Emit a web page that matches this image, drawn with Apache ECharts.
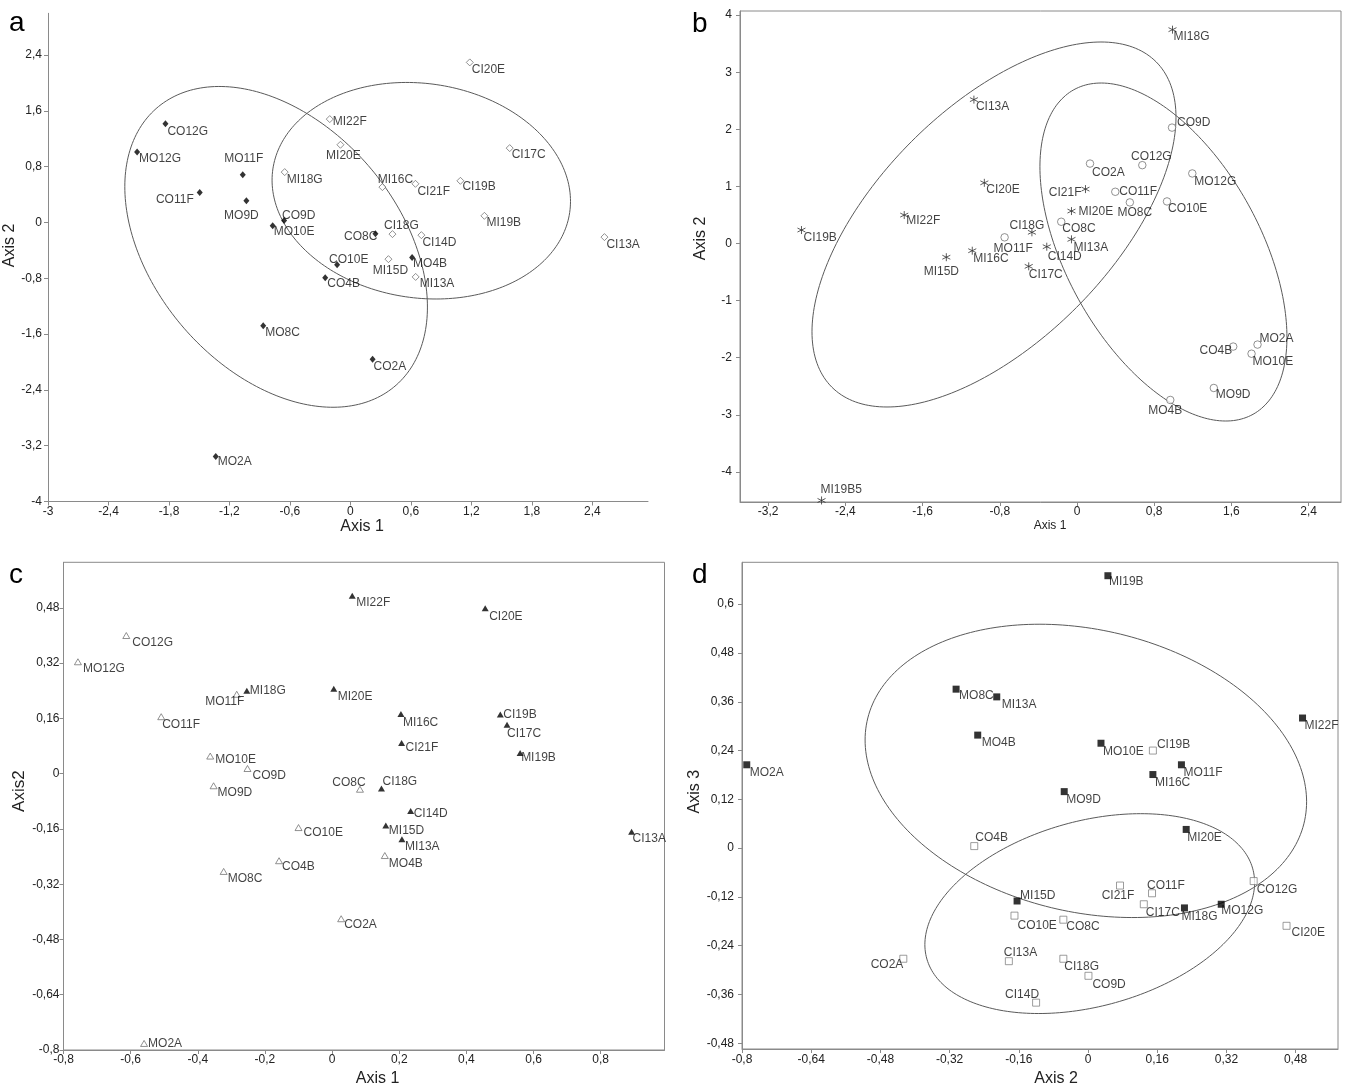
<!DOCTYPE html>
<html><head><meta charset="utf-8">
<script src="https://cdn.jsdelivr.net/npm/echarts@6/dist/echarts.min.js"></script>
<style>html,body{margin:0;padding:0;background:#fff}#c{width:1345px;height:1088px}</style>
</head><body><div id="c"></div>
<script>
// ===== Panel a : Axis 1 vs Axis 2 (diamonds) =====
const aFilledNames = ['CO12G','MO12G','MO11F','CO11F','MO9D','CO9D','MO10E','CO8C','CO10E','CO4B','MO4B','MO8C','CO2A','MO2A'];
const aFilledX = [-1.835,-2.116,-1.068,-1.495,-1.032,-0.658,-0.771,0.248,-0.132,-0.25,0.612,-0.865,0.22,-1.336];
const aFilledY = [1.416,1.010,0.684,0.430,0.311,0.029,-0.047,-0.162,-0.607,-0.79,-0.502,-1.48,-1.96,-3.355];
const aOpenNames = ['CI20E','MI22F','MI20E','CI17C','MI18G','MI16C','CI21F','CI19B','MI19B','CI13A','CI18G','CI14D','MI15D','MI13A'];
const aOpenX = [1.184,-0.205,-0.099,1.580,-0.652,0.317,0.645,1.091,1.329,2.520,0.417,0.704,0.377,0.647];
const aOpenY = [2.296,1.483,1.115,1.067,0.723,0.508,0.555,0.598,0.096,-0.209,-0.166,-0.181,-0.525,-0.78];
// ellipses: [centre x, centre y, var x, var y, cov xy]
const aEllipses = [[-0.737,-0.349,2.253,5.289,-1.295],[0.703,0.456,2.191,2.410,-0.225]];
const aXTicks = [-3,-2.4,-1.8,-1.2,-0.6,0,0.6,1.2,1.8,2.4];
const aYTicks = [-4,-3.2,-2.4,-1.6,-0.8,0,0.8,1.6,2.4];

// ===== Panel b : Axis 1 vs Axis 2 (asterisks / circles) =====
const bStarNames = ['MI18G','CI13A','CI20E','MI22F','CI19B','MI15D','MI16C','CI21F','MI20E','CI18G','CI14D','MI13A','CI17C','MI19B5'];
const bStarX = [0.99,-1.068,-0.96,-1.79,-2.855,-1.354,-1.085,0.088,-0.057,-0.467,-0.313,-0.057,-0.50,-2.647];
const bStarY = [3.745,2.52,1.063,0.498,0.236,-0.24,-0.126,0.953,0.568,0.196,-0.056,0.073,-0.40,-4.50];
const bCircNames = ['CO9D','CO2A','CO12G','MO12G','CO11F','CO10E','MO8C','CO8C','MO11F','CO4B','MO2A','MO10E','MO9D','MO4B'];
const bCircX = [0.985,0.135,0.677,1.195,0.397,0.933,0.548,-0.163,-0.75,1.619,1.871,1.809,1.418,0.967];
const bCircY = [2.03,1.40,1.372,1.227,0.906,0.737,0.72,0.381,0.108,-1.805,-1.77,-1.93,-2.53,-2.74];
const bEllipses = [[-0.860,0.333,3.557,10.215,3.544],[0.896,-0.149,1.638,8.76,-1.911]];
const bXTicks = [-3.2,-2.4,-1.6,-0.8,0,0.8,1.6,2.4];
const bYTicks = [-4,-3,-2,-1,0,1,2,3,4];

// ===== Panel c : Axis 1 vs Axis2 (triangles) =====
const cFilledNames = ['MI18G','MI20E','MI22F','CI20E','MI16C','CI19B','CI17C','CI21F','MI19B','CI18G','CI14D','MI15D','CI13A','MI13A'];
const cFilledX = [-0.254,0.005,0.060,0.456,0.205,0.501,0.521,0.207,0.560,0.147,0.234,0.16,0.892,0.208];
const cFilledY = [0.240,0.246,0.515,0.479,0.173,0.171,0.142,0.089,0.060,-0.043,-0.108,-0.15,-0.168,-0.19];
const cOpenNames = ['CO12G','MO12G','MO11F','CO11F','MO10E','CO9D','MO9D','CO8C','CO10E','MO4B','CO4B','MO8C','CO2A','MO2A'];
const cOpenX = [-0.613,-0.757,-0.284,-0.509,-0.363,-0.252,-0.353,0.083,-0.10,0.157,-0.158,-0.323,0.027,-0.56];
const cOpenY = [0.400,0.324,0.230,0.165,0.051,0.015,-0.035,-0.045,-0.156,-0.237,-0.252,-0.283,-0.42,-0.781];
const cXTicks = [-0.8,-0.6,-0.4,-0.2,0,0.2,0.4,0.6,0.8];
const cYTicks = [-0.8,-0.64,-0.48,-0.32,-0.16,0,0.16,0.32,0.48];

// ===== Panel d : Axis 2 vs Axis 3 (squares) =====
const dFilledNames = ['MI19B','MO8C','MI13A','MO4B','MO2A','MI22F','MO10E','MO11F','MI16C','MO9D','MI20E','MI15D','MI18G','MO12G'];
const dFilledX = [0.046,-0.305,-0.211,-0.255,-0.789,0.496,0.030,0.216,0.150,-0.055,0.227,-0.164,0.223,0.308];
const dFilledY = [0.670,0.391,0.372,0.278,0.205,0.320,0.258,0.205,0.181,0.139,0.046,-0.130,-0.147,-0.138];
const dOpenNames = ['CI19B','CO4B','CO12G','CI21F','CO11F','CI17C','CO10E','CO8C','CI20E','CO2A','CI13A','CI18G','CO9D','CI14D'];
const dOpenX = [0.150,-0.263,0.383,0.074,0.148,0.129,-0.170,-0.057,0.459,-0.427,-0.183,-0.057,0.001,-0.120];
const dOpenY = [0.240,0.005,-0.081,-0.092,-0.111,-0.138,-0.166,-0.176,-0.191,-0.272,-0.278,-0.272,-0.314,-0.380];
const dEllipses = [[-0.005,0.190,0.2605,0.1301,-0.03875],[0.004,-0.161,0.1453,0.0604,0.02907]];
const dXTicks = [-0.8,-0.64,-0.48,-0.32,-0.16,0,0.16,0.32,0.48];
const dYTicks = [-0.48,-0.36,-0.24,-0.12,0,0.12,0.24,0.36,0.48,0.6];

// ===== label placement (style): [dx, dy, align] from marker centre =====
const labA = {CO12G:[2,8,'left'],MO12G:[2,7,'left'],MO11F:[1,-16,'center'],CO11F:[-6,7,'right'],MO9D:[-5,15,'center'],CO9D:[-2,-5,'left'],MO10E:[1,6,'left'],MI18G:[2,8,'left'],MI22F:[3,3,'left'],MI20E:[3,11,'center'],CI20E:[2,7,'left'],CI17C:[2,7,'left'],MI16C:[13,-7,'center'],CI21F:[2,8,'left'],CI19B:[2,6,'left'],MI19B:[2,7,'left'],CI13A:[2,8,'left'],CI18G:[9,-8,'center'],CO8C:[2,3,'right'],CI14D:[1,8,'left'],CO10E:[-8,-5,'left'],MI15D:[2,12,'center'],MO4B:[1,6,'left'],MI13A:[4,7,'left'],CO4B:[2,6,'left'],MO8C:[2,7,'left'],CO2A:[1,7,'left'],MO2A:[2,5,'left']};
const labB = {CI13A:[2,7,'left'],CI20E:[2,7,'left'],MI22F:[2,6,'left'],CI19B:[2,8,'left'],MI15D:[-5,14,'center'],MI16C:[1,8,'left'],MO11F:[-11,11,'left'],MI18G:[1,7,'left'],CO9D:[5,-5,'left'],CO2A:[2,9,'left'],CO12G:[9,-8,'center'],MO12G:[2,8,'left'],CI21F:[-4,4,'right'],CO11F:[4,0,'left'],CO10E:[1,7,'left'],MI20E:[7,1,'left'],MO8C:[5,10,'center'],CI18G:[-5,-7,'center'],CO8C:[1,7,'left'],MI13A:[2,8,'left'],CI14D:[1,10,'left'],CI17C:[0,8,'left'],CO4B:[-1,4,'right'],MO2A:[2,-6,'left'],MO10E:[1,8,'left'],MO9D:[2,7,'left'],MO4B:[-5,11,'center'],MI19B5:[-1,-11,'left']};
const labC = {CO12G:[6,7,'left'],MO12G:[5,7,'left'],MO11F:[-12,7,'center'],MI18G:[3,0,'left'],CO11F:[1,8,'left'],MO10E:[5,4,'left'],CO9D:[5,7,'left'],MO9D:[4,7,'left'],MI20E:[4,8,'left'],MI22F:[4,7,'left'],CI20E:[4,8,'left'],MI16C:[2,9,'left'],CI19B:[3,0,'left'],CI17C:[0,9,'left'],CI21F:[4,5,'left'],MI19B:[1,5,'left'],CO8C:[-11,-7,'center'],CI18G:[1,-7,'left'],CI14D:[3,3,'left'],CO10E:[5,5,'left'],MI15D:[3,5,'left'],CI13A:[1,7,'left'],MI13A:[3,7,'left'],MO4B:[4,8,'left'],CO4B:[3,6,'left'],MO8C:[4,7,'left'],CO2A:[3,6,'left'],MO2A:[4,0,'left']};
const labD = {MO8C:[3,7,'left'],MI13A:[5,8,'left'],MO4B:[4,8,'left'],MO2A:[3,8,'left'],MI19B:[1,6,'left'],MI22F:[2,8,'left'],MO10E:[2,8,'left'],CI19B:[4,-6,'left'],MO11F:[2,8,'left'],MI16C:[2,8,'left'],MO9D:[2,8,'left'],CO4B:[1,-8,'left'],MI20E:[1,8,'left'],CO12G:[3,9,'left'],CI21F:[-2,10,'center'],CO11F:[-5,-8,'left'],MI15D:[3,-5,'left'],CI17C:[2,8,'left'],MI18G:[-3,9,'left'],MO12G:[0,6,'left'],CO10E:[3,10,'left'],CO8C:[3,7,'left'],CI20E:[5,7,'left'],CO2A:[0,6,'right'],CI13A:[-5,-8,'left'],CI18G:[1,8,'left'],CO9D:[4,9,'left'],CI14D:[3,-8,'right']};

const FONT = 'Arial, "Liberation Sans", Helvetica, sans-serif';
const AXC = '#8a8a8a';
const fmt = v => String(v).replace('.', ',');

function ellipsePts(e) {
  const [cx, cy, sxx, syy, sxy] = e;
  const a = Math.sqrt(sxx), b = sxy / a, c = Math.sqrt(syy - b * b);
  const pts = [];
  for (let i = 0; i <= 240; i++) {
    const t = 2 * Math.PI * i / 240;
    pts.push([cx + a * Math.cos(t), cy + b * Math.cos(t) + c * Math.sin(t)]);
  }
  return pts;
}

function pointSeries(gi, names, xs, ys, labMap, symbol, size, itemStyle) {
  return {
    type: 'scatter', xAxisIndex: gi, yAxisIndex: gi, symbol: symbol, symbolSize: size,
    itemStyle: itemStyle, z: 3,
    label: { show: true, position: 'inside', formatter: '{b}', fontSize: 12, fontFamily: FONT,
             color: '#111', verticalAlign: 'middle' },
    emphasis: { disabled: true },
    data: names.map((n, i) => {
      const p = labMap[n] || [2, 8, 'left'];
      return { name: n, value: [xs[i], ys[i]], label: { offset: [p[0], p[1]], align: p[2] } };
    })
  };
}

function ellipseSeries(gi, ell) {
  return {
    type: 'line', xAxisIndex: gi, yAxisIndex: gi, data: ellipsePts(ell), showSymbol: false,
    symbol: 'none', smooth: false, silent: true, z: 2,
    lineStyle: { color: '#5a5a5a', width: 1 }
  };
}

function mkX(gi, min, max, ticks, name, gap, fs, pad, margin) {
  return {
    type: 'value', gridIndex: gi, min: min, max: max, name: name, nameLocation: 'middle', nameGap: gap,
    nameTextStyle: { fontSize: fs, fontFamily: FONT, color: '#222', padding: pad },
    axisLine: { show: true, onZero: false, lineStyle: { color: AXC, width: 1 } },
    axisTick: { show: true, length: 4, inside: false, lineStyle: { color: AXC }, customValues: ticks },
    axisLabel: { customValues: ticks, formatter: fmt, fontSize: 12, fontFamily: FONT, color: '#222', margin: margin },
    splitLine: { show: false }
  };
}
function mkY(gi, min, max, ticks, name, gap, fs, pad, margin) {
  const o = mkX(gi, min, max, ticks, name, gap, fs, pad, margin);
  o.nameRotate = 90;
  return o;
}

const grids = [
  { left: 48, top: 13.3, width: 600, height: 488.2, show: false },
  { left: 740, top: 11, width: 601, height: 491, show: true, borderColor: AXC, borderWidth: 1 },
  { left: 63.5, top: 562.3, width: 601, height: 490.7, show: true, borderColor: AXC, borderWidth: 1 },
  { left: 742, top: 562.3, width: 596, height: 489.4, show: true, borderColor: AXC, borderWidth: 1 }
];

const xAxes = [
  mkX(0, -3, 2.952, aXTicks, 'Axis 1', 16.5, 16, [0, 0, 0, 28], 4),
  mkX(1, -3.492, 2.736, bXTicks, 'Axis 1', 18, 12, [0, 0, 0, 19], 4),
  mkX(2, -0.8, 0.99, cXTicks, 'Axis 1', 21, 16, [0, 0, 0, 27], 4),
  mkX(3, -0.8, 0.578, dXTicks, 'Axis 2', 22, 16, [0, 0, 0, 32], 5)
];
const yAxes = [
  mkY(0, -4, 3.0, aYTicks, 'Axis 2', 22, 16, [0, 0, 0, 24], 6),
  mkY(1, -4.527, 4.072, bYTicks, 'Axis 2', 31, 16, [0, 0, 0, 36], 8),
  mkY(2, -0.8, 0.612, cYTicks, 'Axis2', 26, 17, [0, 0, 0, 30], 4),
  mkY(3, -0.494, 0.703, dYTicks, 'Axis 3', 29, 16, [0, 0, 0, 28], 8)
];

const openStyle = c => ({ color: '#fff', borderColor: c, borderWidth: 0.9 });
const blackStyle = { color: '#000' };
const STAR = 'path://M5,0L5,10M0.7,2.5L9.3,7.5M0.7,7.5L9.3,2.5';

const series = [
  ellipseSeries(0, aEllipses[0]), ellipseSeries(0, aEllipses[1]),
  pointSeries(0, aFilledNames, aFilledX, aFilledY, labA, 'diamond', [6, 7], blackStyle),
  pointSeries(0, aOpenNames, aOpenX, aOpenY, labA, 'diamond', [7, 7], openStyle('#666')),
  ellipseSeries(1, bEllipses[0]), ellipseSeries(1, bEllipses[1]),
  pointSeries(1, bStarNames, bStarX, bStarY, labB, STAR, 8, { color: 'none', borderColor: '#333', borderWidth: 1 }),
  pointSeries(1, bCircNames, bCircX, bCircY, labB, 'circle', 7.5, openStyle('#666')),
  pointSeries(2, cFilledNames, cFilledX, cFilledY, labC, 'triangle', [7, 6], blackStyle),
  pointSeries(2, cOpenNames, cOpenX, cOpenY, labC, 'triangle', [7, 6], openStyle('#666')),
  ellipseSeries(3, dEllipses[0]), ellipseSeries(3, dEllipses[1]),
  pointSeries(3, dFilledNames, dFilledX, dFilledY, labD, 'rect', 7, blackStyle),
  pointSeries(3, dOpenNames, dOpenX, dOpenY, labD, 'rect', 7, openStyle('#777'))
];

const letter = (t, x, y) => ({ type: 'text', x: x, y: y, style: { text: t, fontSize: 28, fontFamily: FONT, fill: '#000', align: 'left', verticalAlign: 'bottom' } });

const chart = echarts.init(document.getElementById('c'), null, { renderer: 'canvas' });
chart.setOption({
  animation: false,
  backgroundColor: '#fff',
  grid: grids, xAxis: xAxes, yAxis: yAxes, series: series,
  graphic: [letter('a', 9, 37), letter('b', 692, 38), letter('c', 9, 589), letter('d', 692, 589)]
});
</script></body></html>
